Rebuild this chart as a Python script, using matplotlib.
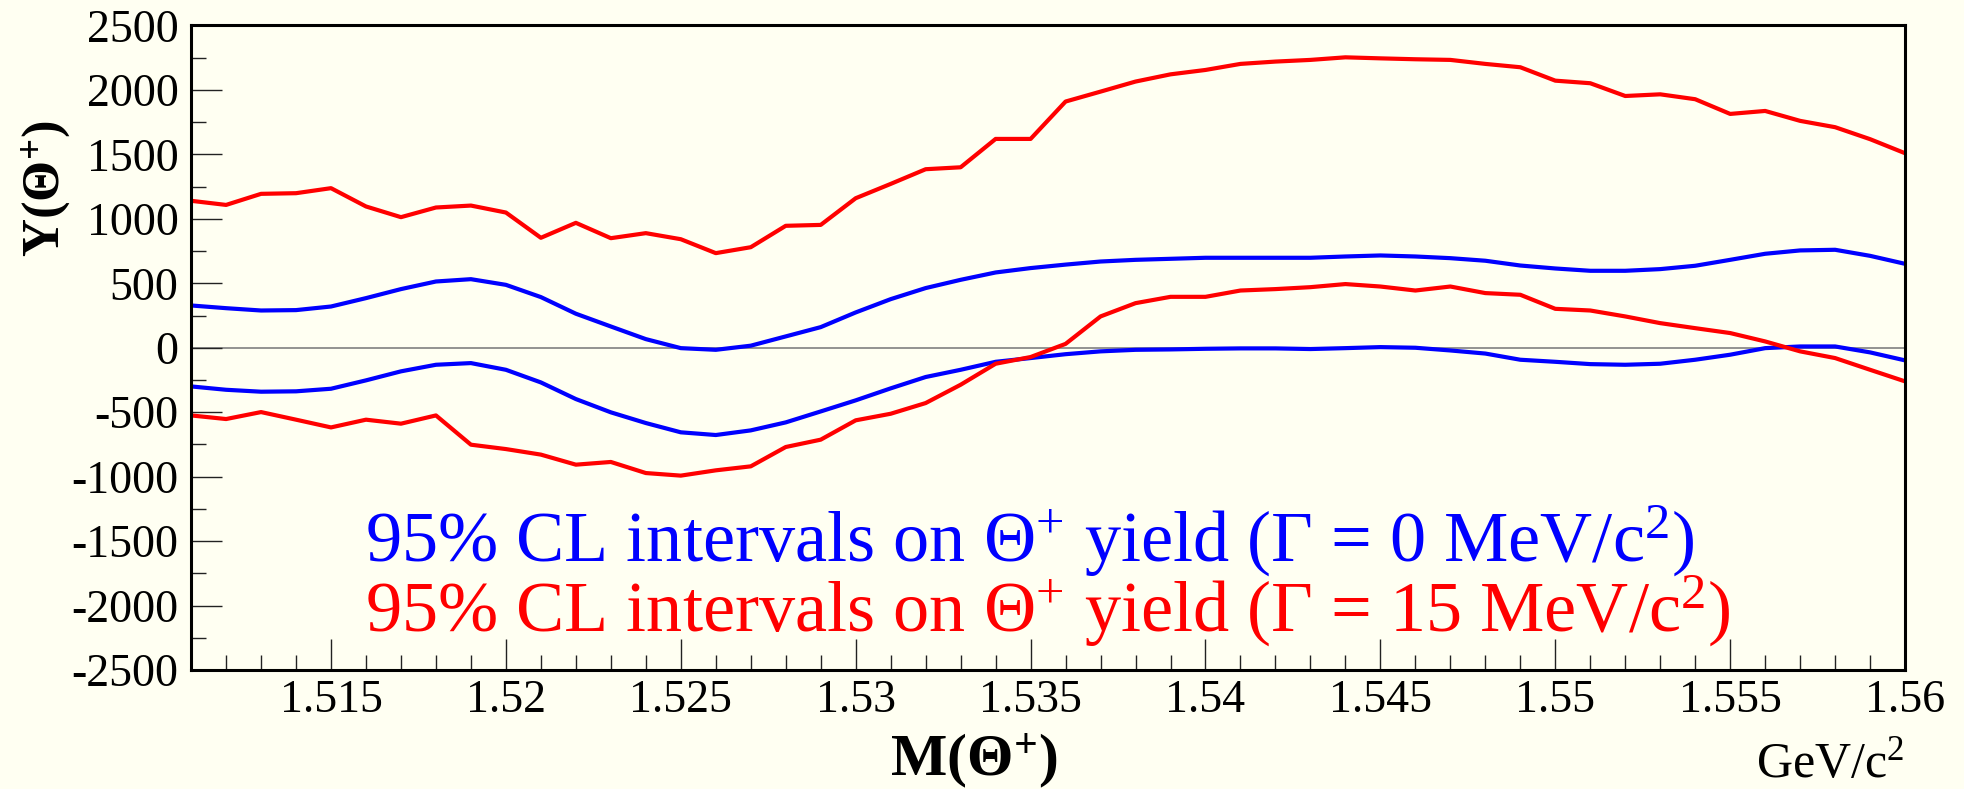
import numpy as np
import matplotlib
matplotlib.use("Agg")
import matplotlib.pyplot as plt
from matplotlib.ticker import MultipleLocator, FuncFormatter

plt.rcParams['font.family'] = ['Liberation Serif', 'DejaVu Serif']
plt.rcParams['mathtext.fontset'] = 'custom'
plt.rcParams['mathtext.rm'] = 'Liberation Serif'
plt.rcParams['mathtext.it'] = 'Liberation Serif:italic'
plt.rcParams['mathtext.bf'] = 'Liberation Serif:bold'
plt.rcParams['axes.unicode_minus'] = False

# Theta+ mass (GeV/c^2)
mass = [1.511, 1.512, 1.513, 1.514, 1.515, 1.516, 1.517, 1.518, 1.519, 1.520,
        1.521, 1.522, 1.523, 1.524, 1.525, 1.526, 1.527, 1.528, 1.529, 1.530,
        1.531, 1.532, 1.533, 1.534, 1.535, 1.536, 1.537, 1.538, 1.539, 1.540,
        1.541, 1.542, 1.543, 1.544, 1.545, 1.546, 1.547, 1.548, 1.549, 1.550,
        1.551, 1.552, 1.553, 1.554, 1.555, 1.556, 1.557, 1.558, 1.559, 1.560]

# Gamma = 0 MeV/c^2 band (blue)
blue_upper = [328, 307, 289, 292, 320, 385, 455, 514, 532, 488,
              393, 264, 165, 67, -3, -16, 16, 88, 160, 274,
              377, 463, 527, 584, 618, 645, 669, 682, 690, 698,
              698, 698, 698, 708, 716, 708, 695, 675, 638, 615,
              597, 597, 610, 636, 682, 729, 755, 760, 713, 651]
blue_lower = [-300, -326, -341, -338, -318, -253, -183, -132, -119, -171,
              -269, -398, -501, -584, -656, -677, -641, -579, -494, -408,
              -315, -227, -171, -109, -80, -50, -28, -16, -13, -8,
              -5, -5, -10, -3, 5, 0, -21, -45, -93, -109,
              -127, -132, -124, -93, -54, -3, 10, 10, -36, -98]

# Gamma = 15 MeV/c^2 band (red)
red_upper = [1140, 1108, 1194, 1199, 1238, 1096, 1013, 1088, 1103, 1049,
             853, 969, 850, 889, 842, 734, 780, 946, 953, 1160,
             1271, 1385, 1400, 1620, 1620, 1910, 1987, 2065, 2121, 2155,
             2202, 2220, 2233, 2253, 2245, 2238, 2233, 2202, 2176, 2072,
             2052, 1953, 1966, 1928, 1814, 1837, 1760, 1711, 1618, 1509]
red_lower = [-525, -553, -499, -558, -618, -558, -589, -525, -752, -786,
             -829, -907, -886, -972, -992, -951, -920, -770, -713, -563,
             -512, -429, -287, -124, -72, 30, 243, 346, 395, 395,
             444, 455, 470, 494, 475, 444, 475, 424, 411, 302,
             289, 243, 191, 152, 114, 49, -28, -80, -171, -261]

bg = '#fffff2'
fig = plt.figure(figsize=(19.64, 7.89), dpi=100, facecolor=bg)
ax = fig.add_axes([0.0973, 0.1508, 0.8727, 0.8169], facecolor=bg)

ax.axhline(0, color='#808080', lw=1.2, zorder=1)
ax.plot(mass, blue_upper, color='#0000ff', lw=3)
ax.plot(mass, blue_lower, color='#0000ff', lw=3)
ax.plot(mass, red_upper, color='#ff0000', lw=3)
ax.plot(mass, red_lower, color='#ff0000', lw=3)

ax.set_xlim(1.511, 1.56)
ax.set_ylim(-2500, 2500)

ax.xaxis.set_major_locator(MultipleLocator(0.005))
ax.xaxis.set_minor_locator(MultipleLocator(0.001))
ax.yaxis.set_major_locator(MultipleLocator(500))
ax.yaxis.set_minor_locator(MultipleLocator(250))
ax.xaxis.set_major_formatter(FuncFormatter(lambda v, p: '%g' % round(v, 3)))
ax.yaxis.set_major_formatter(FuncFormatter(lambda v, p: '%d' % v))

ax.tick_params(which='both', direction='in', top=False, right=False,
               color='#222222', width=1.0, labelsize=33)
ax.tick_params(which='major', length=22)
ax.tick_params(which='minor', length=11)
ax.tick_params(axis='y', pad=9)
ax.tick_params(axis='x', pad=7)

for s in ax.spines.values():
    s.set_linewidth(2.2)
    s.set_color('black')

# axis titles
fig.text(0.024, 0.848, r'$\mathbf{Y(\Theta^{+})}$', rotation=90,
         ha='center', va='top', fontsize=38)
fig.text(0.496, 0.016, r'$\mathbf{M(\Theta^{+})}$', ha='center',
         va='baseline', fontsize=43)
fig.text(0.9695, 0.0152, r'GeV/c$^{2}$', ha='right', va='baseline', fontsize=36)

# interval labels
fig.text(0.186, 0.288, r'95% CL intervals on $\Theta^{+}$ yield ($\Gamma$ = 0 MeV/c$^{2}$)',
         color='#0000ff', fontsize=52, va='baseline', ha='left')
fig.text(0.186, 0.199, r'95% CL intervals on $\Theta^{+}$ yield ($\Gamma$ = 15 MeV/c$^{2}$)',
         color='#ff0000', fontsize=52, va='baseline', ha='left')

fig.savefig('out.png', dpi=100, facecolor=bg)
